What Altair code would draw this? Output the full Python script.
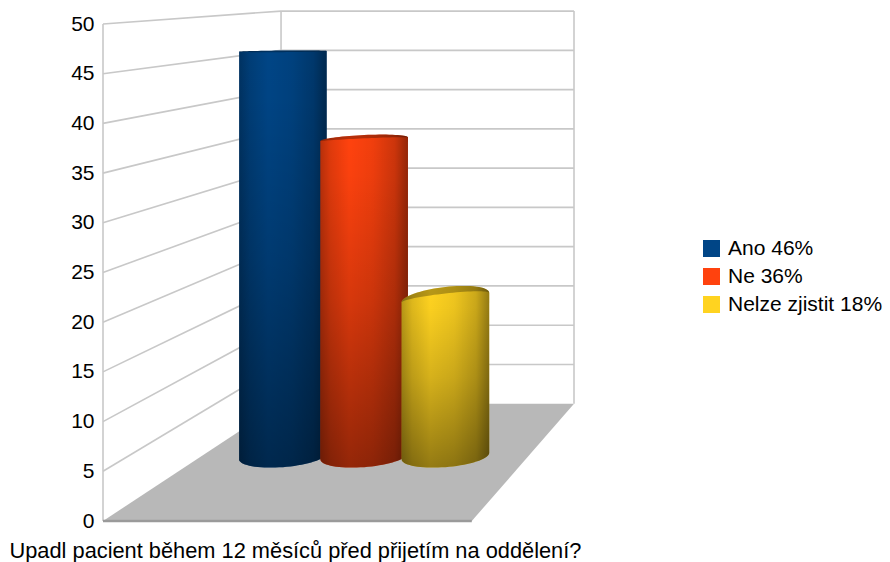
import math
import altair as alt
import pandas as pd

# Survey answers
CATEGORIES = ["Ano 46%", "Ne 36%", "Nelze zjistit 18%"]
VALUES = [46, 36, 18]
COLORS = ["#004586", "#ff420e", "#ffd320"]
TICKS = [0, 5, 10, 15, 20, 25, 30, 35, 40, 45, 50]
CAPTION = "Upadl pacient během 12 měsíců před přijetím na oddělení?"
FONT = "Liberation Sans"

# Perspective of the box: the plot's x runs 0-100 along the front edge and
# the rear wall is shifted and shrunk relative to the front.
BACK_LEFT, FRONT_RIGHT, BACK_RIGHT = 37.8, 78.3, 100.0
BACK_RISE, BACK_SHRINK = 11.8, 0.79


def back(v):
    return BACK_RISE + BACK_SHRINK * v


# Cylinders stand mid-way in the box
CYL_START, CYL_STEP, CYL_RADIUS = 38.2, 17.25, 9.3
CYL_BASE, CYL_UNIT = 6.54, 0.885
EYE_LEVEL, ARC_SLOPE, TILT_RATIO = 48.0, 0.036, 0.45
FOOT_ARC, FOOT_TILT = 1.12, 0.33
SAMPLES = 37

x_enc = alt.X(
    "x:Q",
    scale=alt.Scale(domain=[0, 100], nice=False, zero=False),
    axis=alt.Axis(
        title=CAPTION, labels=False, ticks=False, domain=False, grid=False,
        titleFont=FONT, titleFontSize=21.8, titleFontWeight="normal", titleColor="#000000",
        titleAnchor="start", titleAlign="left", titleBaseline="alphabetic", titleX=-94, titleY=36,
    ),
)
y_enc = alt.Y(
    "y:Q",
    stack=None,
    scale=alt.Scale(domain=[0, 50], nice=False, zero=False),
    axis=alt.Axis(
        title=None, values=TICKS, ticks=False, domain=False, grid=False,
        labelFont=FONT, labelFontSize=21, labelColor="#000000", labelPadding=9,
    ),
)


def cylinder_frame(value, index):
    center = CYL_START + CYL_STEP * index
    height = CYL_BASE + CYL_UNIT * value
    arc = max(ARC_SLOPE * (EYE_LEVEL - value), 0.08)
    rows = []
    for k in range(SAMPLES):
        t = math.pi * k / (SAMPLES - 1)
        c, s = math.cos(t), math.sin(t)
        top = height + arc * (TILT_RATIO * c + s)
        rows.append({
            "x": center + CYL_RADIUS * c,
            "y": top,
            "y2": CYL_BASE + FOOT_TILT * c - FOOT_ARC * s,
            # Shadow under the rear rim, thickest at the crown of the arc
            "rim": top - (0.12 + 0.5 * arc) * s,
            "answer": CATEGORIES[index],
        })
    return pd.DataFrame(rows).sort_values("x")


def gradient(stops, vertical=False):
    return alt.LinearGradient(
        gradient="linear",
        stops=[alt.GradientStop(offset=o, color=c) for o, c in stops],
        x1=0, y1=0,
        x2=0 if vertical else 1,
        y2=1 if vertical else 0,
    )


def shade(alpha):
    return f"rgba(0,0,0,{alpha})"


layers = []

# Floor of the box
floor = pd.DataFrame({
    "x": [0, BACK_LEFT, FRONT_RIGHT, BACK_RIGHT],
    "y": [0, 0, 0, BACK_RISE],
    "y2": [0, BACK_RISE, BACK_RISE, BACK_RISE],
})
layers.append(alt.Chart(floor).mark_area(color="#b8b8b8").encode(x=x_enc, y=y_enc, y2="y2:Q"))

# Grid on the left and rear walls
left_grid = pd.DataFrame({
    "x": [0.0] * 10, "x2": [BACK_LEFT] * 10,
    "y": TICKS[1:], "y2": [back(v) for v in TICKS[1:]],
})
rear_grid = pd.DataFrame({
    "x": [BACK_LEFT] * 10, "x2": [BACK_RIGHT] * 10,
    "y": [back(v) for v in TICKS[1:]], "y2": [back(v) for v in TICKS[1:]],
})
uprights = pd.DataFrame({
    "x": [0.0, BACK_LEFT, BACK_RIGHT], "x2": [0.0, BACK_LEFT, BACK_RIGHT],
    "y": [0.0, back(0), back(0)], "y2": [50.0, back(50), back(50)],
})
for frame in (left_grid, rear_grid, uprights):
    layers.append(
        alt.Chart(frame).mark_rule(color="#c8c8c8", strokeWidth=1.6)
        .encode(x=x_enc, x2="x2:Q", y=y_enc, y2="y2:Q")
    )

# Darker front lip of the floor
lip = pd.DataFrame({"x": [0.0], "x2": [FRONT_RIGHT], "y": [0.0], "y2": [0.0]})
layers.append(
    alt.Chart(lip).mark_rule(color="#9a9a9a", strokeWidth=2.5)
    .encode(x=x_enc, x2="x2:Q", y=y_enc, y2="y2:Q")
)

color_enc = alt.Color(
    "answer:N",
    sort=CATEGORIES,
    scale=alt.Scale(domain=CATEGORIES, range=COLORS),
    legend=alt.Legend(
        title=None, orient="none", legendX=598, legendY=214, padding=0,
        symbolType="square", symbolSize=289, symbolStrokeWidth=0, symbolOpacity=1,
        labelFont=FONT, labelFontSize=21, labelColor="#000000", labelOffset=6,
        rowPadding=6, labelLimit=300,
    ),
)

across = [(0, shade(0.28)), (0.12, shade(0.12)), (0.33, shade(0)), (0.6, shade(0.06)), (0.85, shade(0.2)), (1, shade(0.42))]
down = [(0, shade(0)), (0.12, shade(0.02)), (0.5, shade(0.16)), (1, shade(0.42))]

for i, value in enumerate(VALUES):
    frame = cylinder_frame(value, i)
    base = alt.Chart(frame)
    layers.append(base.mark_area().encode(x=x_enc, y=y_enc, y2="y2:Q", color=color_enc))
    layers.append(base.mark_area(color=gradient(across)).encode(x=x_enc, y=y_enc, y2="y2:Q"))
    layers.append(base.mark_area(color=gradient(down, vertical=True)).encode(x=x_enc, y=y_enc, y2="y2:Q"))
    layers.append(base.mark_area(color=shade(0.28)).encode(x=x_enc, y=y_enc, y2="rim:Q"))

chart = (
    alt.layer(*layers)
    .properties(
        width=471,
        height=497,
        padding={"left": 103, "top": 24, "right": 316, "bottom": 41},
        autosize=alt.AutoSizeParams(type="none"),
        background="#ffffff",
    )
    .configure_view(stroke=None)
)

chart.save("out.html", embed_options={"renderer": "svg", "actions": False})
